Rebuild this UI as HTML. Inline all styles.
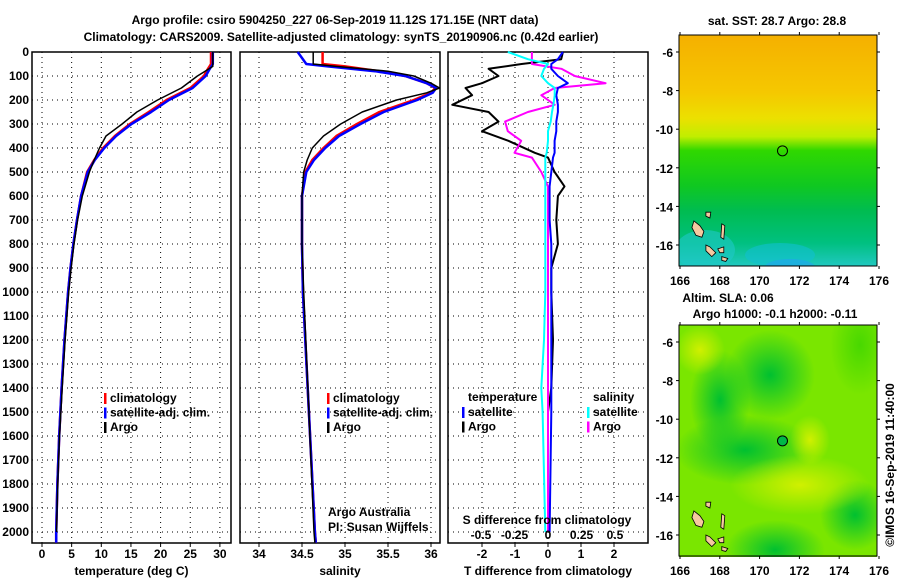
<!DOCTYPE html>
<html><head><meta charset="utf-8"><style>
body{margin:0;background:#fff;width:900px;height:580px;overflow:hidden}
svg{display:block;font-family:"Liberation Sans",Arial,sans-serif}
text{font-weight:bold;font-size:12px}
</style></head><body>
<svg id="s" width="900" height="580">
<defs>
<linearGradient id="sst" x1="0" y1="0" x2="0" y2="1">
<stop offset="0" stop-color="#f5b000"/><stop offset="0.25" stop-color="#f5c800"/><stop offset="0.36" stop-color="#ece000"/>
<stop offset="0.44" stop-color="#c0ee00"/><stop offset="0.5" stop-color="#30d800"/><stop offset="0.65" stop-color="#10c820"/>
<stop offset="0.76" stop-color="#00bc50"/><stop offset="0.9" stop-color="#00c080"/><stop offset="1" stop-color="#20c8c0"/>
</linearGradient>
<radialGradient id="blob"><stop offset="0" stop-color="#00c030"/><stop offset="1" stop-color="#00c030" stop-opacity="0"/></radialGradient>
<radialGradient id="blobL"><stop offset="0" stop-color="#48d800"/><stop offset="1" stop-color="#48d800" stop-opacity="0"/></radialGradient>
<radialGradient id="blobY"><stop offset="0" stop-color="#d0f000"/><stop offset="1" stop-color="#d0f000" stop-opacity="0"/></radialGradient>
<clipPath id="clipTop"><rect x="679" y="35" width="198" height="231"/></clipPath>
<clipPath id="clipBot"><rect x="679" y="325" width="198" height="232"/></clipPath>
</defs>
<text x="335" y="24" text-anchor="middle" font-size="13">Argo profile: csiro 5904250_227 06-Sep-2019 11.12S 171.15E (NRT data)</text>
<text x="341" y="41" text-anchor="middle" font-size="13">Climatology: CARS2009. Satellite-adjusted climatology: synTS_20190906.nc (0.42d earlier)</text>
<g id="g"></g>
</svg>
<script>
// depth levels (m)
const tDepth=[0,50,70,100,150,200,250,300,350,400,450,500,600,700,800,900,1000,1200,1400,1600,1800,2000,2045];
const tClim=[28.5,28.5,28.0,27.3,25.0,21.0,18.0,14.8,12.3,10.3,8.8,7.6,6.6,5.9,5.3,4.8,4.4,3.8,3.3,2.9,2.6,2.4,2.4];
const tSat=[28.8,28.8,28.3,27.6,25.4,21.4,18.4,15.1,12.5,10.5,8.9,7.7,6.6,5.9,5.3,4.8,4.4,3.8,3.3,2.9,2.6,2.4,2.4];
const argoDepth=[0,60,80,100,150,200,250,300,350,400,450,500,600,700,800,900,1000,1200,1400,1600,1800,2000];
const tArgo=[28.8,28.8,27.5,26.2,23.5,19.5,16.0,13.5,10.8,9.7,8.8,8.0,6.8,6.0,5.4,4.9,4.5,3.9,3.4,2.95,2.65,2.45];
const sDepth=[0,50,60,80,100,130,150,170,200,250,300,350,400,450,500,600,800,1000,1500,2000,2045];
const sClim=[34.74,34.74,35.0,35.4,35.7,35.95,36.05,36.0,35.8,35.4,35.14,34.9,34.75,34.62,34.54,34.5,34.5,34.51,34.58,34.65,34.66];
const sSatTop=[34.45,34.55,34.8,35.35,35.7,35.95,36.06,36.02,35.84,35.45,35.18,34.93,34.77,34.64,34.55,34.5,34.5,34.51,34.58,34.65,34.66];
const sArgo=[34.63,34.63,34.9,35.5,35.8,36.0,36.1,35.95,35.6,35.2,34.95,34.75,34.62,34.56,34.52,34.5,34.5,34.52,34.58,34.64,34.65];
const dDepth=[0,30,50,70,100,130,150,180,220,250,290,330,370,420,440,500,560,600,700,800,900,1000,1200,1400,1500,2000];
const dTArgo=[0.45,0.4,-0.8,-1.8,-1.5,-2.0,-2.5,-2.3,-2.9,-1.8,-1.5,-2.0,-1.2,-0.4,0,0.2,0.5,0.3,0.25,0.3,0.1,0.1,0.15,0.1,0,0];
const dTSat=[0.45,0.3,0.1,0.1,0.3,0.6,0.3,0.25,0.3,0.3,0.25,0.25,0.2,0.2,0.15,0.1,0.05,0.05,0.05,0.1,0.1,0.1,0.1,0.1,0.1,0.05];
const dSArgo=[-0.12,-0.12,-0.12,0.1,0.2,0.43,0.05,-0.05,0.05,-0.15,-0.32,-0.3,-0.2,-0.25,-0.12,-0.05,0,0,0,0,0,0,0,0,0,0];
const dSatS=[-0.3,-0.15,0,-0.03,-0.05,0,0.05,0.05,0.04,0.03,0.02,0,0,-0.01,-0.02,-0.02,-0.02,-0.02,-0.02,-0.02,-0.02,-0.02,-0.03,-0.05,-0.04,-0.02];
const depthTicks=[0,100,200,300,400,500,600,700,800,900,1000,1100,1200,1300,1400,1500,1600,1700,1800,1900,2000];
const tTicks=[0,5,10,15,20,25,30];
const sTicks=[34,34.5,35,35.5,36];
const dTTicks=[-2,-1,0,1,2];
const dSTicks=[-0.5,-0.25,0,0.25,0.5];
const dSTickLabels=["-0.5","-0.25","0","0.25","0.5"];
const lonTicks=[166,168,170,172,174,176];
const latTicks=[-6,-8,-10,-12,-14,-16];
// islands as [lon,lat] outlines
const islands=[
 [[166.7,-14.75],[167.0,-15.0],[167.2,-15.3],[167.1,-15.6],[166.8,-15.5],[166.6,-15.1]],
 [[167.3,-16.0],[167.5,-16.1],[167.8,-16.4],[167.6,-16.6],[167.3,-16.3]],
 [[167.9,-16.2],[168.2,-16.1],[168.2,-16.4],[168.0,-16.4]],
 [[168.1,-14.9],[168.25,-15.0],[168.2,-15.7],[168.05,-15.6]],
 [[167.3,-14.3],[167.55,-14.3],[167.5,-14.6],[167.3,-14.5]],
 [[168.1,-16.6],[168.4,-16.7],[168.3,-16.85],[168.1,-16.8]]
];

const NS="http://www.w3.org/2000/svg",G=document.getElementById('g');
function el(t,a,txt,p){const e=document.createElementNS(NS,t);for(const k in a)e.setAttribute(k,a[k]);if(txt!=null)e.textContent=txt;(p||G).appendChild(e);return e;}
const Y=d=>52+d*0.24, YB=543;
const P1={x0:32,x1:231,f:v=>42+v*5.93};
const P2={x0:240,x1:440,f:v=>259+(v-34)*86};
const P3={x0:448,x1:648,f:v=>548+v*33};
const fS=v=>548+v*134;

function panel(P,name,ticks,labels,ytext){
  const g=el('g',{});
  
  
  depthTicks.forEach(d=>{const l=el('line',{x1:P.x0,x2:P.x1,y1:Y(d),y2:Y(d),stroke:'#000','stroke-dasharray':'1,4','stroke-width':1},null,g);
    });
  ticks.forEach(v=>{const x=P.f(v);const l=el('line',{x1:x,x2:x,y1:52,y2:YB,stroke:'#000','stroke-dasharray':'1,4'},null,g);
    
    el('line',{x1:x,x2:x,y1:YB,y2:YB+4,stroke:'#000'},null,g);});
  if(labels){ticks.forEach((v,i)=>{const t=el('text',{x:P.f(v),y:558,'text-anchor':'middle'},labels[i],g);
    });}
  const r=el('rect',{x:P.x0,y:52,width:P.x1-P.x0,height:YB-52,fill:'none',stroke:'#000','stroke-width':1.5},null,g);
  
  const t=el('text',{x:(P.x0+P.x1)/2,y:575,'text-anchor':'middle'},ytext,g);
  
}
panel(P1,'temperature-panel',tTicks,tTicks.map(String),'temperature (deg C)');
panel(P2,'salinity-panel',sTicks,sTicks.map(String),'salinity');
panel(P3,'difference-panel',dTTicks,dTTicks.map(String),'T difference from climatology');
depthTicks.forEach(d=>{const t=el('text',{x:29,y:Y(d)+4,'text-anchor':'end'},String(d));
  });

function line(depths,vals,f,color,name,w){
  const pts=depths.map((d,i)=>f(vals[i]).toFixed(1)+','+Y(d).toFixed(1)).join(' ');
  const p=el('polyline',{points:pts,fill:'none',stroke:color,'stroke-width':w||2,'stroke-linejoin':'round'});
  
}
line(tDepth,tClim,P1.f,'#f00','temp-climatology-line',2.5);
line(tDepth,tSat,P1.f,'#00f','temp-satellite-line',2.5);
line(argoDepth,tArgo,P1.f,'#000','temp-argo-line',1.5);
line(sDepth,sClim,P2.f,'#f00','sal-climatology-line',2.5);
line(sDepth,sSatTop,P2.f,'#00f','sal-satellite-line',2.5);
line(sDepth,sArgo,P2.f,'#000','sal-argo-line',1.5);
line(dDepth,dTArgo,P3.f,'#000','tdiff-argo-line',2);
line(dDepth,dSArgo,fS,'#f0f','sdiff-argo-line',2);
line(dDepth,dTSat,P3.f,'#00f','tdiff-satellite-line',2);
line(dDepth,dSatS,fS,'#0ff','sdiff-satellite-line',2);

const st=el('text',{x:547,y:524,'text-anchor':'middle'},'S difference from climatology');


dSTicks.forEach((v,i)=>{const t=el('text',{x:fS(v),y:539,'text-anchor':'middle'},dSTickLabels[i]);
  });

function legend(x,y,items){items.forEach((it,i)=>{const yy=y+i*14.5;
  el('rect',{x:x-6,y:yy-9,width:2.5,height:11,fill:it[1]});
  const t=el('text',{x:x,y:yy},it[0]);
  });}
legend(110,402,[['climatology','#f00'],['satellite-adj. clim.','#00f'],['Argo','#000']]);
legend(333,402,[['climatology','#f00'],['satellite-adj. clim.','#00f'],['Argo','#000']]);
el('text',{x:468,y:401},'temperature');
legend(468,416,[['satellite','#00f'],['Argo','#000']]);
el('text',{x:593,y:401},'salinity');
legend(593,416,[['satellite','#0ff'],['Argo','#f0f']]);
el('text',{x:328,y:516,'font-weight':'normal','font-size':'11'},'Argo Australia');
el('text',{x:328,y:531,'font-weight':'normal','font-size':'11'},'PI: Susan Wijffels');

// maps
const LX=v=>680+(v-166)*19.9;
function map(y0,name,title,clip,fillFn){
  const g=el('g',{});
  
  const LY=v=>y0+17+(-6-v)*19.3;
  const cg=el('g',{'clip-path':'url(#'+clip+')'},null,g);
  fillFn(cg,y0);
  islands.forEach(poly=>{
    const pts=poly.map(p=>LX(p[0]).toFixed(1)+','+LY(p[1]).toFixed(1)).join(' ');
    el('polygon',{points:pts,fill:'#f5c9a0',stroke:'#000','stroke-width':0.8},null,cg);});
  el('circle',{cx:LX(171.15),cy:LY(-11.12),r:5,fill:name==='sla-map'?'#00b848':'none',stroke:'#000'},null,g);
  el('rect',{x:679,y:y0,width:198,height:231,fill:'none',stroke:'#000'},null,g);
  lonTicks.forEach(v=>{el('line',{x1:LX(v),x2:LX(v),y1:y0,y2:y0-3,stroke:'#000'},null,g);
    el('line',{x1:LX(v),x2:LX(v),y1:y0+231,y2:y0+234,stroke:'#000'},null,g);
    const t=el('text',{x:LX(v),y:y0+250,'text-anchor':'middle','font-size':'13'},String(v),g);
    });
  latTicks.forEach(v=>{el('line',{x1:676,x2:679,y1:LY(v),y2:LY(v),stroke:'#000'},null,g);
    el('line',{x1:877,x2:880,y1:LY(v),y2:LY(v),stroke:'#000'},null,g);
    const t=el('text',{x:673,y:LY(v)+5,'text-anchor':'end','font-size':'13'},String(v),g);
    });
  title.forEach((s,i)=>{const t=el('text',{x:s[1],y:s[2],'text-anchor':'middle'},s[0],g);
    });
}
map(35,'sst-map',[['sat. SST: 28.7 Argo: 28.8',777,25]],'clipTop',(g,y0)=>{
  el('rect',{x:679,y:y0,width:198,height:231,fill:'url(#sst)'},null,g);
  el('ellipse',{cx:705,cy:y0+215,rx:30,ry:20,fill:'#20c8c8',opacity:0.6},null,g);
  el('ellipse',{cx:780,cy:y0+220,rx:35,ry:12,fill:'#10c0d0',opacity:0.6},null,g);
  el('ellipse',{cx:790,cy:y0+232,rx:25,ry:8,fill:'#20a8e8',opacity:0.7},null,g);
});
map(325,'sla-map',[['Altim. SLA: 0.06',728,302],['Argo h1000: -0.1 h2000: -0.11',775,318]],'clipBot',(g,y0)=>{
  el('rect',{x:679,y:y0,width:198,height:232,fill:'#7ae600'},null,g);
  [[770,85,45,45,'url(#blob)'],[745,160,70,35,'url(#blob)'],[775,260,50,30,'url(#blob)'],[855,225,35,35,'url(#blob)'],[720,110,30,50,'url(#blob)'],
   [800,195,70,30,'url(#blobY)'],[700,60,25,25,'url(#blobY)'],[810,150,20,25,'url(#blobY)'],[860,55,30,50,'url(#blobL)']].forEach(b=>{
    el('ellipse',{cx:b[0],cy:y0+b[1]-35,rx:b[2],ry:b[3],fill:b[4]},null,g);});
});
const c=el('text',{x:0,y:0,transform:'translate(894,465) rotate(-90)','text-anchor':'middle','font-weight':'normal','font-size':'13'},'©IMOS 16-Sep-2019 11:40:00');

</script>
</body></html>
